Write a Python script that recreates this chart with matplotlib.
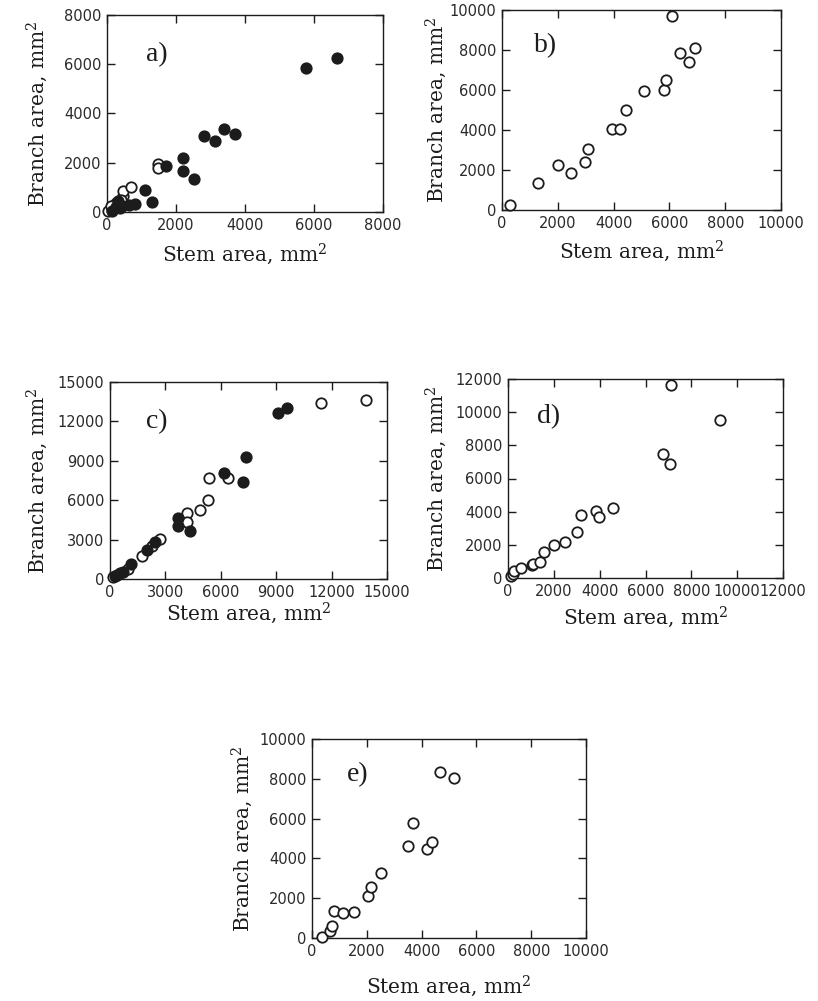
import matplotlib
matplotlib.use("Agg")
import matplotlib.pyplot as plt
import numpy as np

# ---------------- data ----------------
# panel a
a_filled_x = [5770, 6670, 2820, 3120, 3400, 3700, 2190, 2210, 2530, 1720, 1090, 1300, 820, 640, 440, 250, 150, 310, 380]
a_filled_y = [5860, 6260, 3080, 2880, 3360, 3160, 2180, 1650, 1350, 1850, 910, 410, 310, 300, 240, 200, 40, 440, 150]
a_open_x = [30, 150, 220, 250, 470, 470, 690, 1490, 1490, 400, 120]
a_open_y = [40, 100, 200, 380, 640, 840, 1000, 1950, 1780, 480, 250]

# panel b
b_open_x = [300, 1290, 2020, 2470, 2980, 3070, 3930, 4240, 4440, 5100, 5810, 5890, 6080, 6380, 6710, 6900]
b_open_y = [250, 1350, 2250, 1850, 2390, 3060, 4070, 4030, 4980, 5950, 6020, 6490, 9710, 7870, 7400, 8100]

# panel c
c_filled_x = [9090, 9600, 7340, 7210, 6170, 3700, 3700, 4330, 2460, 2010, 1150, 550, 270, 400, 700]
c_filled_y = [12670, 13020, 9320, 7350, 8060, 4610, 4000, 3670, 2790, 2230, 1140, 430, 250, 300, 500]
c_open_x = [13870, 11410, 6390, 5350, 5290, 4850, 4160, 4160, 2700, 2250, 1730, 1000, 180]
c_open_y = [13630, 13380, 7700, 7700, 5980, 5270, 5020, 4310, 3040, 2530, 1770, 760, 130]

# panel d
d_open_x = [150, 200, 280, 550, 1050, 1100, 1400, 1590, 2000, 2500, 3000, 3200, 3850, 3950, 4600, 6750, 7080, 7120, 9240]
d_open_y = [100, 250, 400, 580, 780, 850, 980, 1550, 2000, 2200, 2800, 3800, 4050, 3700, 4200, 7500, 6850, 11650, 9520]

# panel e
e_open_x = [360, 640, 740, 820, 1130, 1540, 2050, 2140, 2520, 3490, 3690, 4200, 4390, 4670, 5180]
e_open_y = [30, 370, 620, 1370, 1240, 1290, 2130, 2550, 3250, 4640, 5780, 4470, 4810, 8330, 8020]

panel_letters = ["a)", "b)", "c)", "d)", "e)"]
limits = [8000, 10000, 15000, 12000, 10000]
steps = [2000, 2000, 3000, 2000, 2000]

# ---------------- figure ----------------
W, H = 818, 1001
fig = plt.figure(figsize=(W / 100, H / 100), dpi=100)
fig.patch.set_facecolor("white")

INK = "#1c1c1c"
plt.rcParams["mathtext.fontset"] = "dejavuserif"

# axes boxes in pixels: left, right, top, bottom
boxes = [
    (107, 383, 15, 212),
    (502, 781, 10, 210),
    (110, 387, 382, 579),
    (508, 783, 379, 578),
    (312, 586, 739, 938),
]
# label centres in pixels
xlabel_y = [254, 251, 613, 617, 986]
ylabel_x = [37, 436, 37, 436, 242]
letter_pos = [(0.14, 0.80), (0.115, 0.82), (0.13, 0.80), (0.105, 0.81), (0.128, 0.82)]

series = [
    ([(a_open_x, a_open_y, False), (a_filled_x, a_filled_y, True)]),
    ([(b_open_x, b_open_y, False)]),
    ([(c_open_x, c_open_y, False), (c_filled_x, c_filled_y, True)]),
    ([(d_open_x, d_open_y, False)]),
    ([(e_open_x, e_open_y, False)]),
]

for i, (l, r, t, b) in enumerate(boxes):
    ax = fig.add_axes([l / W, 1 - b / H, (r - l) / W, (b - t) / H])
    for xs, ys, filled in series[i]:
        ax.plot(xs, ys, linestyle="none", marker="o", markersize=7.5,
                markeredgewidth=1.3, markeredgecolor=INK,
                markerfacecolor=INK if filled else "white",
                clip_on=False, zorder=3)
    lim = limits[i]
    ax.set_xlim(0, lim)
    ax.set_ylim(0, lim)
    ticks = np.arange(0, lim + 1, steps[i])
    ax.set_xticks(ticks)
    ax.set_yticks(ticks)
    ax.set_xticklabels([str(int(v)) for v in ticks])
    ax.set_yticklabels([str(int(v)) for v in ticks])
    ax.tick_params(direction="in", length=6, width=1.0, top=True, right=True,
                   colors=INK, labelsize=10.5, pad=4)
    for lab in ax.get_xticklabels() + ax.get_yticklabels():
        lab.set_fontfamily("DejaVu Sans")
        lab.set_color("#2a2a2a")
    for sp in ax.spines.values():
        sp.set_linewidth(1.0)
        sp.set_color(INK)

    ax.set_xlabel("Stem area, mm$^2$", fontsize=14.5, family="DejaVu Serif", color=INK)
    ax.set_ylabel("Branch area, mm$^2$", fontsize=14.5, family="DejaVu Serif", color=INK)
    ax.xaxis.label.set_va("center")
    ax.yaxis.label.set_va("center")
    ax.xaxis.set_label_coords(0.5, (b - xlabel_y[i]) / (b - t))
    ax.yaxis.set_label_coords((ylabel_x[i] - l) / (r - l), 0.5)

    lx, ly = letter_pos[i]
    ax.text(lx, ly, panel_letters[i], transform=ax.transAxes, fontsize=20,
            family="Liberation Serif", color=INK, ha="left", va="center")

fig.savefig("out.png", dpi=100, facecolor="white")
